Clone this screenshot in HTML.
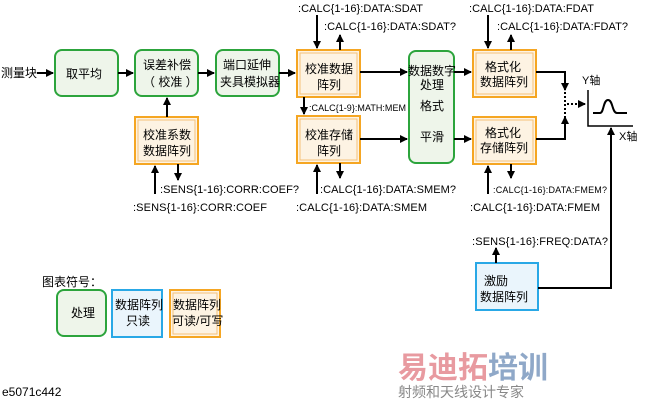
<!DOCTYPE html>
<html><head><meta charset="utf-8"><style>
body{margin:0;background:#fff}
text{font-family:"Liberation Sans","Noto Sans CJK SC",sans-serif;font-size:12px;fill:#000}
.c{font-size:11px}
</style></head><body>
<svg width="650" height="402" viewBox="0 0 650 402" xmlns="http://www.w3.org/2000/svg">
<defs><marker id="a" markerWidth="8" markerHeight="8" refX="7" refY="4" orient="auto" markerUnits="userSpaceOnUse"><path d="M0,0L8,4L0,8z" fill="#000"/></marker></defs>
<g fill="#eef5ea" stroke="#2ca43c" stroke-width="2">
<rect x="55" y="50" width="63" height="46" rx="7"/>
<rect x="135" y="50" width="63" height="46" rx="7"/>
<rect x="216" y="50" width="63" height="46" rx="7"/>
<rect x="409" y="51" width="45" height="112" rx="7"/>
<rect x="57" y="290" width="49" height="46" rx="7"/>
</g>
<g fill="#fdf3e3" stroke="#f5a623" stroke-width="2">
<rect x="297" y="50" width="63" height="47"/><rect x="135" y="117" width="63" height="47"/>
<rect x="297" y="116" width="63" height="47"/><rect x="473" y="50" width="63" height="47"/>
<rect x="473" y="117" width="63" height="47"/><rect x="170" y="290" width="50" height="47"/>
</g>
<g fill="none" stroke="#f5c27a" stroke-width="1">
<rect x="300" y="53" width="57" height="41"/><rect x="138" y="120" width="57" height="41"/>
<rect x="300" y="119" width="57" height="41"/><rect x="476" y="53" width="57" height="41"/>
<rect x="476" y="120" width="57" height="41"/><rect x="173" y="293" width="44" height="41"/>
</g>
<g fill="#eaf5fc" stroke="#29a8e6" stroke-width="2">
<rect x="476" y="263" width="62" height="47"/><rect x="112" y="290" width="50" height="47"/>
</g>
<g stroke="#000" stroke-width="2" fill="none" marker-end="url(#a)">
<line x1="37" y1="73" x2="53" y2="73"/><line x1="118" y1="73" x2="133" y2="73"/>
<line x1="198" y1="73" x2="214" y2="73"/><line x1="279" y1="73" x2="295" y2="73"/>
<line x1="167" y1="117" x2="167" y2="98"/>
<line x1="155" y1="194" x2="155" y2="166"/><line x1="178" y1="164" x2="178" y2="180"/>
<line x1="317" y1="15" x2="317" y2="48"/><line x1="340" y1="50" x2="340" y2="35"/>
<line x1="304" y1="97" x2="304" y2="114"/>
<line x1="317" y1="194" x2="317" y2="165"/><line x1="340" y1="163" x2="340" y2="178"/>
<line x1="360" y1="72" x2="407" y2="72"/><line x1="360" y1="139" x2="407" y2="139"/>
<line x1="454" y1="72" x2="471" y2="72"/><line x1="454" y1="139" x2="471" y2="139"/>
<line x1="488" y1="15" x2="488" y2="48"/><line x1="511" y1="50" x2="511" y2="35"/>
<line x1="488" y1="194" x2="488" y2="166"/><line x1="511" y1="164" x2="511" y2="178"/>
<polyline points="536,72 565,72 565,90"/><polyline points="536,139 565,139 565,117"/>
<line x1="496" y1="263" x2="496" y2="248"/>
<polyline points="538,288 611,288 611,128"/>
</g>
<line x1="565" y1="92" x2="565" y2="117" stroke="#000" stroke-width="2" stroke-dasharray="2,2"/>
<line x1="567" y1="104" x2="585" y2="104" stroke="#000" stroke-width="2" stroke-dasharray="2,2" marker-end="url(#a)"/>
<polyline points="588,90 588,126 633,126" fill="none" stroke="#000" stroke-width="1.5"/>
<path d="M593,113H600C604,113 603,100 608,100S612,113 617,113H627" fill="none" stroke="#000" stroke-width="2"/>
<text x="1" y="77">测量块</text><text x="66" y="78">取平均</text>
<text x="143" y="69">误差补偿</text><text x="143" y="86">（ 校准 ）</text>
<text x="223" y="69">端口延伸</text><text x="220" y="86">夹具模拟器</text>
<text x="305" y="73">校准数据</text><text x="317" y="89">阵列</text>
<text x="143" y="139">校准系数</text><text x="143" y="155">数据阵列</text>
<text x="305" y="139">校准存储</text><text x="317" y="155">阵列</text>
<text x="408" y="75">数据数字</text><text x="420" y="89">处理</text>
<text x="420" y="110">格式</text><text x="420" y="141">平滑</text>
<text x="485" y="71">格式化</text><text x="480" y="86">数据阵列</text>
<text x="485" y="137">格式化</text><text x="480" y="152">存储阵列</text>
<text x="582" y="84" style="font-size:11px">Y轴</text><text x="619" y="140" style="font-size:11px">X轴</text>
<text x="484" y="285">激励</text><text x="480" y="301">数据阵列</text>
<text x="42" y="286">图表符号：</text><text x="71" y="317">处理</text>
<text x="115" y="309">数据阵列</text><text x="126" y="325">只读</text>
<text x="173" y="309">数据阵列</text><text x="172" y="325">可读/可写</text>
<text class="c" x="298" y="12" textLength="125">:CALC{1-16}:DATA:SDAT</text>
<text class="c" x="324" y="30" textLength="132">:CALC{1-16}:DATA:SDAT?</text>
<text x="309" y="111" style="font-size:9px" textLength="97">:CALC{1-9}:MATH:MEM</text>
<text class="c" x="320" y="193" textLength="136">:CALC{1-16}:DATA:SMEM?</text>
<text class="c" x="296" y="211" textLength="131">:CALC{1-16}:DATA:SMEM</text>
<text class="c" x="469" y="12" textLength="125">:CALC{1-16}:DATA:FDAT</text>
<text class="c" x="497" y="30" textLength="131">:CALC{1-16}:DATA:FDAT?</text>
<text x="493" y="193" style="font-size:9px" textLength="114">:CALC{1-16}:DATA:FMEM?</text>
<text class="c" x="470" y="211" textLength="130">:CALC{1-16}:DATA:FMEM</text>
<text class="c" x="160" y="193" textLength="139">:SENS{1-16}:CORR:COEF?</text>
<text class="c" x="133" y="211" textLength="134">:SENS{1-16}:CORR:COEF</text>
<text class="c" x="472" y="245" textLength="136">:SENS{1-16}:FREQ:DATA?</text>
<text x="2" y="396">e5071c442</text>
<text x="398" y="378" style="font-size:30px;font-weight:bold;fill:#e89aa0">易迪拓</text>
<text x="488" y="378" style="font-size:30px;font-weight:bold;fill:#8fa8c8">培训</text>
<text x="398" y="397" style="font-size:14px;fill:#888">射频和天线设计专家</text>
</svg>
</body></html>
